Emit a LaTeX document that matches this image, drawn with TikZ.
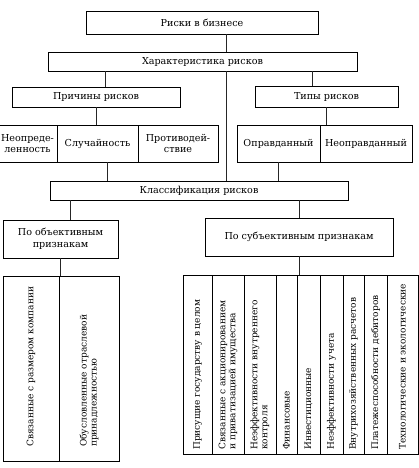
\documentclass[tikz,border=0pt]{standalone}
\usepackage{fontspec}
\setmainfont{DejaVu Serif}
\begin{document}
\begin{tikzpicture}[x=1pt,y=-1pt,
  box/.style={draw,line width=0.9pt,rectangle,inner sep=0pt,align=center,font=\fontsize{9.6}{11.5}\selectfont},
  vtext/.style={rotate=90,anchor=west,inner sep=0pt,align=left,font=\fontsize{9}{10}\selectfont},
  conn/.style={line width=0.5pt,black!85}]
\clip (0,0) rectangle (419,468);
\useasboundingbox (0,0) rectangle (419,468);
% top levels
\node[box,minimum width=232pt,minimum height=23pt] (r1) at (202,22.5) {Риски в бизнесе};
\node[box,minimum width=309pt,minimum height=19pt] (r2) at (202.5,61.5) {Характеристика рисков};
\node[box,minimum width=168pt,minimum height=20pt] (r3) at (96,97) {Причины рисков};
\node[box,minimum width=143pt,minimum height=21pt] (r4) at (326.5,96.5) {Типы рисков};
% causes
\node[box,minimum width=59pt,minimum height=37pt] (t1) at (27.5,143.5) {Неопреде-\\ленность};
\node[box,minimum width=81pt,minimum height=37pt] (t2) at (97.5,143.5) {Случайность};
\node[box,minimum width=80pt,minimum height=37pt] (t3) at (178,143.5) {Противодей-\\ствие};
% types
\node[box,minimum width=83pt,minimum height=37pt] (p1) at (278.5,143.5) {Оправданный};
\node[box,minimum width=92pt,minimum height=37pt] (p2) at (366,143.5) {Неоправданный};
% classification
\node[box,minimum width=298pt,minimum height=19pt] (cls) at (199,190.5) {Классификация рисков};
\node[box,minimum width=115pt,minimum height=38pt] (obj) at (60.5,239) {По объективным\\признакам};
\node[box,minimum width=188pt,minimum height=38pt] (subj) at (299,237) {По субъективным признакам};
% lower left cells
\node[box,minimum width=56pt,minimum height=185pt] (l1) at (31,368.5) {};
\node[box,minimum width=60pt,minimum height=185pt] (l2) at (89,368.5) {};
\node[vtext] (lt1) at (31,447) {Связанные с размером компании};
\node[vtext] (lt2) at (89,447) {Обусловленные отраслевой\\принадлежностью};
% lower right cells
\node[box,minimum width=29pt,minimum height=179pt] (c1) at (197.5,364.5) {};
\node[box,minimum width=32pt,minimum height=179pt] (c2) at (228,364.5) {};
\node[box,minimum width=32pt,minimum height=179pt] (c3) at (260,364.5) {};
\node[box,minimum width=21pt,minimum height=179pt] (c4) at (286.5,364.5) {};
\node[box,minimum width=23pt,minimum height=179pt] (c5) at (308.5,364.5) {};
\node[box,minimum width=23pt,minimum height=179pt] (c6) at (331.5,364.5) {};
\node[box,minimum width=21pt,minimum height=179pt] (c7) at (353.5,364.5) {};
\node[box,minimum width=23pt,minimum height=179pt] (c8) at (375.5,364.5) {};
\node[box,minimum width=31pt,minimum height=179pt] (c9) at (402.5,364.5) {};
\node[vtext] (ct1) at (197.5,450) {Присущие государству в целом};
\node[vtext] (ct2) at (228,450) {Связанные с акционированием\\и приватизацией имущества};
\node[vtext] (ct3) at (260,450) {Неэффективности внутреннего\\контроля};
\node[vtext] (ct4) at (286.5,450) {Финансовые};
\node[vtext] (ct5) at (308.5,450) {Инвестиционные};
\node[vtext] (ct6) at (331.5,450) {Неэффективности учета};
\node[vtext] (ct7) at (353.5,450) {Внутрихозяйственных расчетов};
\node[vtext] (ct8) at (375.5,450) {Платежеспособности дебиторов};
\node[vtext] (ct9) at (402.5,450) {Технологические и экологические};
% connector x positions
\coordinate (xa) at (226,0);
\coordinate (xb) at (105,0);
\coordinate (xc) at (312,0);
\coordinate (xd) at (107,0);
\coordinate (xe) at (278,0);
\coordinate (xf) at (70,0);
% connectors
\draw[conn] (r1.south -| xa) -- (r2.north -| xa);
\draw[conn] (r2.south -| xb) -- (r3.north -| xb);
\draw[conn] (r2.south -| xc) -- (r4.north -| xc);
\draw[conn] (r2.south -| xa) -- (cls.north -| xa);
\draw[conn] (r3.south) -- (r3.south |- t2.north);
\draw[conn] (r4.south) -- (r4.south |- p2.north);
\draw[conn] (t2.south -| xd) -- (cls.north -| xd);
\draw[conn] (p1.south -| xe) -- (cls.north -| xe);
\draw[conn] (cls.south -| xf) -- (obj.north -| xf);
\draw[conn] (cls.south -| subj.north) -- (subj.north);
\draw[conn] (obj.south) -- (obj.south |- l1.north);
\draw[conn] (subj.south) -- (subj.south |- c5.north);
\end{tikzpicture}
\end{document}
